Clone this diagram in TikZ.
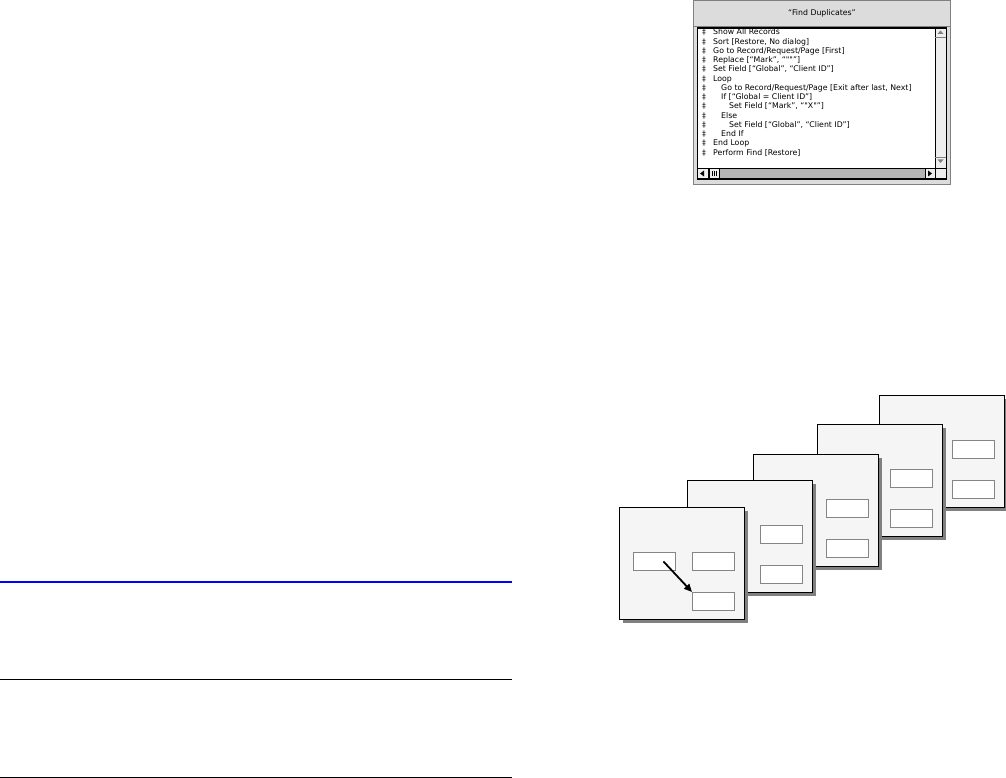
\documentclass[tikz,border=0pt]{standalone}
\usepackage{fontspec}
\setmainfont{Liberation Sans}
\newfontfamily\winfont{DejaVu Sans}
\usetikzlibrary{arrows.meta, positioning, calc, shadows}
\definecolor{panelFill}{HTML}{F5F5F5}
\definecolor{shadowGray}{HTML}{808080}
\definecolor{fieldGray}{HTML}{858585}
\definecolor{winGray}{HTML}{DCDCDC}
\definecolor{barGray}{HTML}{EEEEEE}
\definecolor{trackGray}{HTML}{B4B4B4}
\definecolor{ruleBlue}{HTML}{0000FF}
\tikzset{
  layoutcard/.style={draw, line width=1.2pt, fill=panelFill, anchor=north west, minimum width=125pt, minimum height=112pt, inner sep=0pt,
    drop shadow={shadow xshift=3pt, shadow yshift=-3pt, fill=shadowGray, opacity=1}},
  fieldbox/.style={draw=fieldGray, line width=0.8pt, fill=white, anchor=north west, minimum width=42pt, minimum height=18pt, inner sep=0pt},
  stepline/.style={anchor=base west, inner sep=0pt, font=\winfont\fontsize{7.8}{9}\selectfont},
  barbox/.style={draw, line width=0.6pt, fill=barGray},
  jumparr/.style={-{Triangle[length=8pt, width=7pt]}, line width=1.8pt},
}

\begin{document}
\begin{tikzpicture}[x=1pt, y=-1pt]
  \useasboundingbox (0,0) rectangle (1006,778);

  % script window
  \draw[fill=winGray, draw=shadowGray] (693,0) rectangle (950,184);
  \node[font=\winfont\fontsize{7.8}{9}\selectfont] (title) at (822,13) {“Find Duplicates”};
  \draw[shadowGray, line width=1pt] (693,27) -- (950,27);
  \draw[fill=white] (697,28) rectangle (935,168);
  \draw[barbox] (935,28) rectangle (946,168);
  \fill[shadowGray] (940.5,30.5) -- (943.5,34) -- (937.5,34) -- cycle;
  \draw[shadowGray] (935,37) -- (946,37);
  \fill[shadowGray] (940.5,163) -- (943.5,159.5) -- (937.5,159.5) -- cycle;
  \draw[shadowGray] (935,157) -- (946,157);
  \draw[fill=trackGray] (697,168) rectangle (935,179);
  \draw[barbox] (697,168) rectangle (708,179);
  \fill (700,173.5) -- (704,170.5) -- (704,176.5) -- cycle;
  \draw[barbox] (709,168) rectangle (719,179);
  \foreach \u in {712,714,716} \draw[line width=0.5pt] (\u,171) -- (\u,176);
  \draw[barbox] (925,168) rectangle (935,179);
  \fill (932,173.5) -- (928,170.5) -- (928,176.5) -- cycle;
  \draw[barbox] (935,168) rectangle (946,179);
  \draw[line width=1pt] (697,28) rectangle (946,179);

  % script steps
  \foreach \lvl/\txt [count=\i] in {
      0/{Show All Records},
      0/{Sort [Restore, No dialog]},
      0/{Go to Record/Request/Page [First]},
      0/{Replace [“Mark”, “""”]},
      0/{Set Field [“Global”, “Client ID”]},
      0/{Loop},
      1/{Go to Record/Request/Page [Exit after last, Next]},
      1/{If [“Global = Client ID”]},
      2/{Set Field [“Mark”, “"X"”]},
      1/{Else},
      2/{Set Field [“Global”, “Client ID”]},
      1/{End If},
      0/{End Loop},
      0/{Perform Find [Restore]}} {
    \node[stepline] (mark\i) at (702, 35+9.25*\i-9.25) {‡};
    \node[stepline] (step\i) at (713+8*\lvl, 35+9.25*\i-9.25) {\txt};
  }

  % stacked layouts, back to front
  \foreach \n/\x/\y in {5/879/395, 4/817/424, 3/753/454, 2/687/480, 1/619/507} {
    \node[layoutcard] (card\n) at (\x,\y) {};
    \node[fieldbox] (upper\n) at (\x+73,\y+45) {};
    \node[fieldbox] (lower\n) at (\x+73,\y+85) {};
  }
  \node[fieldbox] (key1) at (633,552) {};
  \draw[jumparr] ([xshift=9pt]key1.center) -- (lower1.north west);

  % rules
  \draw[ruleBlue, line width=2pt] (0,582) -- (512,582);
  \draw[line width=1pt] (0,679) -- (512,679);
  \draw[line width=1pt] (0,777) -- (512,777);
\end{tikzpicture}
\end{document}
